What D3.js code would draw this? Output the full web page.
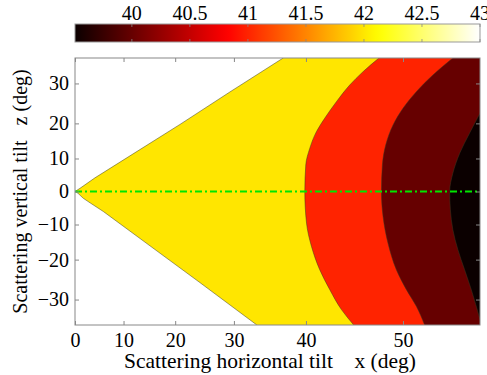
<!DOCTYPE html>
<html>
<head>
<meta charset="utf-8">
<script src="https://cdn.jsdelivr.net/npm/d3@7"></script>
<style>
 body { margin: 0; background: #fff; }
 text { font-family: "Liberation Serif", "Times New Roman", serif; fill: #000; }
</style>
</head>
<body>
<script>
// *** tick values (deg) and colorbar ticks
var xTicks = [0, 10, 20, 30, 40, 50];
var zTicks = [-30, -20, -10, 0, 10, 20, 30];
var cbTicks = [40, 40.5, 41, 41.5, 42, 42.5, 43];
var xMaxDeg = 55.8;
var zMaxDeg = 35.5;
var cbRange = [39.51, 43];

// *** contour levels: background, then one per filled band (left to right)
var levelBack = 43;
var levels = [42, 41, 40, 39.5];

// *** contour boundaries [x deg, z deg]
var yellowUpper = [[0, 0], [1.04, 0.98], [4.15, 4.18], [11.29, 10.78], [20.87, 19.71], [29.36, 28.0], [37.1, 35.5]];
var yellowLower = [[0, 0], [0.62, -0.55], [1.73, -2.08], [3.12, -3.45], [5.87, -6.09], [15.23, -16.18], [24.4, -25.94], [33.45, -35.5]];
var redEdge = [[47.84, 35.5], [46.30, 32.62], [44.95, 29.64], [43.53, 25.64], [42.22, 21.38], [41.26, 17.74], [40.47, 13.03], [39.98, 8.10], [39.86, 0], [40.07, -9.57], [40.67, -16.35], [41.64, -22.67], [42.79, -27.67], [44.07, -32.25], [45.36, -35.5]];
var darkEdge = [[53.93, 35.5], [52.44, 31.90], [51.12, 28.07], [50.00, 23.98], [49.13, 19.58], [48.47, 13.99], [48.16, 8.10], [48.07, 0], [48.22, -7.59], [48.67, -15.39], [49.42, -22.67], [50.29, -27.67], [51.12, -31.52], [51.79, -35.5]];
var blackEdge = [[55.8, 22.69], [55.10, 17.30], [54.42, 11.57], [53.93, 5.60], [53.70, 0], [53.75, -5.57], [53.93, -11.55], [54.29, -17.27], [54.76, -22.67], [55.22, -27.67], [55.8, -34.38]];

var width = 487, height = 375;
var plotLeft = 75, plotRight = 480, plotTop = 58, plotBottom = 325;
var fontSize = '20px';
var rad = Math.PI / 180;

var svg = d3.select('body').append('svg')
 .attr('width', width)
 .attr('height', height);

// *** axes are linear in tan(angle), labelled in degrees
var xLin = d3.scaleLinear().domain([0, Math.tan(xMaxDeg * rad)]).range([plotLeft, plotRight]);
var zLin = d3.scaleLinear().domain([-Math.tan(zMaxDeg * rad), Math.tan(zMaxDeg * rad)]).range([plotBottom, plotTop]);
var px = function(d) { return xLin(Math.tan(d * rad)); };
var pz = function(d) { return zLin(Math.tan(d * rad)); };

// *** MATLAB hot colormap
var span = cbRange[1] - cbRange[0];
var hot = d3.scaleLinear()
 .domain([cbRange[0], cbRange[0] + span * 3 / 8, cbRange[0] + span * 6 / 8, cbRange[1]])
 .range(['rgb(11,0,0)', 'rgb(255,0,0)', 'rgb(255,255,0)', 'rgb(255,255,255)'])
 .clamp(true);

// *** colorbar
var cbScale = d3.scaleLinear().domain(cbRange).range([plotLeft, plotRight]);
var grad = svg.append('defs').append('linearGradient')
 .attr('id', 'hotgrad').attr('x1', '0%').attr('x2', '100%');
d3.range(0, 1.0001, 0.02).forEach(function(t) {
 grad.append('stop')
  .attr('offset', (t * 100) + '%')
  .attr('stop-color', hot(cbRange[0] + t * span));
});
svg.append('rect')
 .attr('x', plotLeft).attr('y', 24).attr('width', plotRight - plotLeft).attr('height', 18)
 .attr('fill', 'url(#hotgrad)')
 .attr('stroke', '#999').attr('stroke-width', 1);
cbTicks.forEach(function(t) {
 var x = cbScale(t);
 svg.append('line').attr('x1', x).attr('x2', x).attr('y1', 24).attr('y2', 27)
  .attr('stroke', '#888').attr('stroke-width', 0.8);
 svg.append('line').attr('x1', x).attr('x2', x).attr('y1', 39).attr('y2', 42)
  .attr('stroke', '#888').attr('stroke-width', 0.8);
 svg.append('text')
  .attr('x', x).attr('y', 20)
  .attr('text-anchor', 'middle')
  .style('font-size', fontSize)
  .text(t);
});

// *** plot area
svg.append('clipPath').attr('id', 'plotclip')
 .append('rect').attr('x', plotLeft).attr('y', plotTop).attr('width', plotRight - plotLeft).attr('height', plotBottom - plotTop);

var plot = svg.append('g').attr('clip-path', 'url(#plotclip)');

plot.append('rect')
 .attr('x', plotLeft).attr('y', plotTop).attr('width', plotRight - plotLeft).attr('height', plotBottom - plotTop)
 .attr('fill', hot(levelBack));

var straight = d3.line().x(function(d) { return px(d[0]); }).y(function(d) { return pz(d[1]); });
var smooth = d3.line().x(function(d) { return px(d[0]); }).y(function(d) { return pz(d[1]); })
 .curve(d3.curveMonotoneY);

var cornerTail = 'L' + px(xMaxDeg) + ',' + pz(-zMaxDeg) + 'L' + px(xMaxDeg) + ',' + pz(zMaxDeg) + 'Z';

// yellow wedge: upper line, right edge, lower line back to origin
var yellowPath = straight(yellowUpper)
 + 'L' + px(xMaxDeg) + ',' + pz(zMaxDeg)
 + 'L' + px(xMaxDeg) + ',' + pz(-zMaxDeg)
 + straight(yellowLower.slice().reverse()).replace(/^M/, 'L') + 'Z';

var bands = [
 { path: yellowPath, value: levels[0] },
 { path: smooth(redEdge) + cornerTail, value: levels[1] },
 { path: smooth(darkEdge) + cornerTail, value: levels[2] },
 { path: smooth(blackEdge) + 'Z', value: levels[3] }
];

plot.selectAll('path.band')
 .data(bands)
 .enter()
 .append('path')
 .attr('class', 'band')
 .attr('d', function(d) { return d.path; })
 .attr('fill', function(d) { return hot(d.value); })
 .attr('stroke', 'none');

// contour lines
var lines = [straight(yellowUpper), straight(yellowLower), smooth(redEdge), smooth(darkEdge), smooth(blackEdge)];
plot.selectAll('path.cline')
 .data(lines)
 .enter()
 .append('path')
 .attr('class', 'cline')
 .attr('d', function(d) { return d; })
 .attr('fill', 'none')
 .attr('stroke', '#3a3a20')
 .attr('stroke-opacity', 0.7)
 .attr('stroke-width', 0.7);

// green dash-dot line at z = 0
plot.append('line')
 .attr('x1', px(0)).attr('x2', px(xMaxDeg))
 .attr('y1', pz(0)).attr('y2', pz(0))
 .attr('stroke', '#00e600')
 .attr('stroke-width', 2)
 .attr('stroke-dasharray', '7,3,2,3');

// *** axes
var xTickVals = xTicks.map(function(t) { return Math.tan(t * rad); });
var zTickVals = zTicks.map(function(t) { return Math.tan(t * rad); });
var degFmt = function(v) { return d3.format('d')(Math.round(Math.atan(v) / rad)); };

var xAxis = d3.axisBottom(xLin).tickValues(xTickVals).tickFormat(degFmt)
 .tickSizeInner(-4).tickSizeOuter(0).tickPadding(8);
var xAxisTop = d3.axisTop(xLin).tickValues(xTickVals).tickFormat('')
 .tickSizeInner(-4).tickSizeOuter(0);
var zAxis = d3.axisLeft(zLin).tickValues(zTickVals).tickFormat(degFmt)
 .tickSizeInner(-4).tickSizeOuter(0).tickPadding(6);
var zAxisRight = d3.axisRight(zLin).tickValues(zTickVals).tickFormat('')
 .tickSizeInner(-4).tickSizeOuter(0);

[
 [xAxis, 'translate(0,' + plotBottom + ')'],
 [xAxisTop, 'translate(0,' + plotTop + ')'],
 [zAxis, 'translate(' + plotLeft + ',0)'],
 [zAxisRight, 'translate(' + plotRight + ',0)']
].forEach(function(a) {
 var g = svg.append('g').attr('transform', a[1]).call(a[0]);
 g.select('.domain').remove();
 g.selectAll('line').attr('stroke', '#888');
 g.selectAll('text').style('font-size', fontSize).attr('fill', '#000')
  .style('font-family', '"Liberation Serif", serif');
});

// frame
svg.append('rect')
 .attr('x', plotLeft).attr('y', plotTop).attr('width', plotRight - plotLeft).attr('height', plotBottom - plotTop)
 .attr('fill', 'none').attr('stroke', '#888').attr('stroke-width', 1);

// *** axis labels
svg.append('text')
 .attr('x', 270).attr('y', 368)
 .attr('text-anchor', 'middle')
 .style('font-size', '21.5px')
 .style('white-space', 'pre')
 .text('Scattering horizontal tilt    x (deg)');

svg.append('text')
 .attr('transform', 'translate(27,' + ((plotTop + plotBottom) / 2) + ') rotate(-90)')
 .attr('text-anchor', 'middle')
 .style('font-size', fontSize)
 .style('white-space', 'pre')
 .text('Scattering vertical tilt   z (deg)');
</script>
</body>
</html>
